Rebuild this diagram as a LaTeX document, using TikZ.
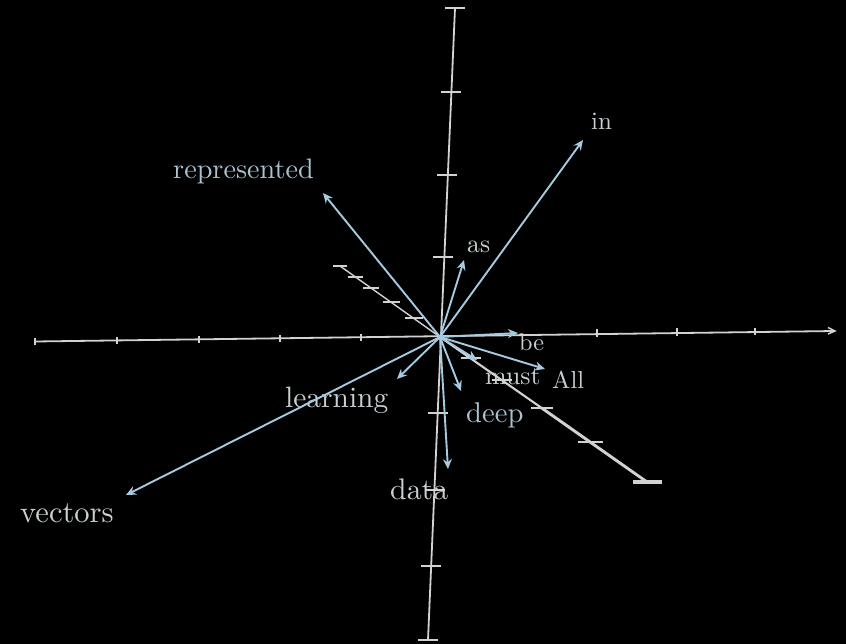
\documentclass[tikz,border=0pt]{standalone}
\usetikzlibrary{arrows.meta}
\definecolor{axisc}{HTML}{D2D2D2}
\definecolor{vecc}{HTML}{A6CAE0}
\definecolor{labc}{HTML}{C9D0D3}
\definecolor{labb}{HTML}{A9C3D3}
\newcommand{\wordlab}[2]{\scalebox{#1}{\fontsize{10}{12}\selectfont #2}}
\begin{document}
\begin{tikzpicture}[x=1pt,y=-1pt,
  axisline/.style={draw=axisc,line width=1.8pt},
  tickmark/.style={draw=axisc,line width=1.7pt},
  vec/.style={draw=vecc,line width=1.9pt,-{Stealth[length=10pt,width=9pt]}},
  lab/.style={text=labc,inner sep=0pt,anchor=base west},
  labblue/.style={lab,text=labb}]
\fill[black] (0,0) rectangle (846,644);
\useasboundingbox (0,0) rectangle (846,644);
% labels
\node[labblue] (Lrep) at (173,179) {\wordlab{2.82}{represented}};
\node[lab] (Lin) at (591,130) {\wordlab{2.5}{in}};
\node[lab] (Las) at (467,253) {\wordlab{2.57}{as}};
\node[lab] (Lbe) at (519,350) {\wordlab{2.42}{be}};
\node[lab] (Lmust) at (485,384) {\wordlab{2.58}{must}};
\node[lab] (Lall) at (552,388) {\wordlab{2.45}{All}};
\node[labblue] (Ldeep) at (466,422) {\wordlab{2.86}{deep}};
\node[lab] (Llearn) at (285,407) {\wordlab{2.94}{learning}};
\node[lab] (Ldata) at (390,499) {\wordlab{2.98}{data}};
\node[lab] (Lvec) at (20,522) {\wordlab{3.05}{vectors}};
% coordinates
\coordinate (O) at (440,337);
\coordinate (hl) at (35,341.5);
\coordinate (hr) at (835,331);
\coordinate (vt) at (455,8);
\coordinate (vb) at (428,640);
\coordinate (dl) at (340,266);
\coordinate (dr) at (647,482);
% horizontal axis
\draw[axisline] (hl) -- (hr);
\foreach \x/\y in {35/341.5,117/340.5,199/339.5,280/338.5,361/337.5,597/333,677/332,755/331.5}
  \draw[draw=axisc,line width=1.3pt] (\x,\y-3.5) -- (\x,\y+3.5);
\draw[draw=axisc,line width=1.5pt] (828,327.5) -- (835,331) -- (828,334);
% vertical axis
\draw[axisline] (vt) -- (vb);
\foreach \x/\y in {455/8,450.5/92,446.9/175,443.4/257,437.7/413,434.5/490,431.2/566,428/640}
  \draw[tickmark] (\x-10,\y) -- (\x+10,\y);
% depth axis (perspective: thicker towards the front)
\draw[draw=axisc,line width=1.4pt] (dl) -- (O);
\draw[draw=axisc,line width=2.1pt] (O) -- (541.7,408);
\draw[draw=axisc,line width=2.9pt,line cap=round] (541.7,408) -- (dr);
\foreach \x/\y/\w/\t in {340/266/7/1.4,355.6/277/7.5/1.4,371.3/288/8/1.5,391.2/302/8.5/1.5,413.9/318/9/1.6,470.8/358/10/1.9,502/380/10/2,541.7/408/11/2.3,590.3/442/12.5/2.7,647/482/14.5/3.1}
  \draw[draw=axisc,line width=\t pt] (\x-\w,\y) -- (\x+\w,\y);
% word vectors
\coordinate (Trep) at (323,193);
\coordinate (Tin) at (583,140);
\coordinate (Tas) at (464,260);
\coordinate (Tbe) at (518,333);
\coordinate (Tall) at (545,369);
\coordinate (Tmust) at (477,360);
\coordinate (Tdeep) at (461,391);
\coordinate (Tlearn) at (397,379);
\coordinate (Tdata) at (448,469);
\coordinate (Tvec) at (126,495);
\foreach \t in {Trep,Tin,Tas,Tbe,Tall,Tmust,Tdeep,Tlearn,Tdata,Tvec}
  \draw[vec] (O) -- (\t);
\end{tikzpicture}
\end{document}
